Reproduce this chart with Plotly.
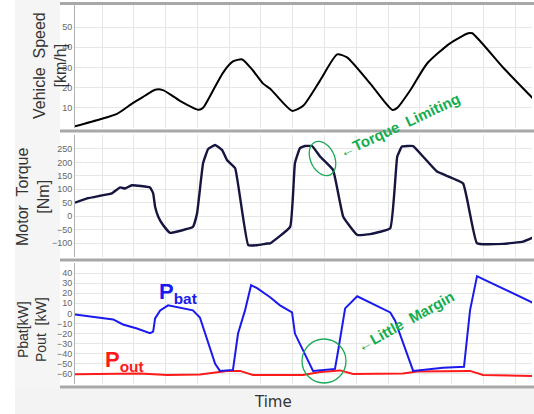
import numpy as np
import plotly.graph_objects as go
from plotly.subplots import make_subplots

# ---------------- data (time in s) ----------------
speed_t = [0, 7.9, 13.2, 18.3, 22.0, 25.2, 27.7, 33.0, 39.0, 40.3, 43.4, 46.6, 49.7, 52.6, 56.0,
           59.2, 61.4, 68.3, 71.8, 77.1, 82.5, 85.6, 92.9, 99.8, 101.4, 105.4, 110.8, 118.0,
           123.7, 125.0, 134.7, 144.2]
speed_v = [0.8, 4.3, 7, 12.5, 16, 19, 18.8, 13.5, 9, 10, 18.5, 27.5, 33, 34, 28.5,
           22, 19.5, 8.5, 11, 23.5, 36.5, 35, 22, 9, 10, 18.5, 32, 42,
           47, 47, 30, 14.5]

torque_t = [0, 3.8, 7.9, 11.6, 14.2, 15.7, 17.9, 23.6, 24.6, 25.2, 26.2, 27.7, 29.9, 37.1, 38.4,
            40.3, 41.9, 44.1, 46.3, 47.8, 50.4, 54.5, 57.3, 60.4, 61.4, 67.7, 69.2, 70.8,
            72.4, 74.6, 77.1, 81.2, 84.4, 88.8, 92.9, 99.2, 101.4, 102.9, 106.4, 109.5,
            113.9, 122.1, 126.5, 134.7, 141.0, 144.5]
torque_v = [50, 66, 76, 85, 107, 103, 115, 107, 85, 35, -2, -33, -62, -40, 10,
            197, 250, 265, 246, 209, 178, -108, -108, -102, -101, -40, 197, 253,
            261, 261, 222, 172, -2, -70, -67, -45, 222, 259, 261, 222,
            166, 122, -101, -103, -95, -77]

pbat_t = [0, 7.9, 12.0, 15.1, 19.5, 23.6, 24.6, 25.2, 26.8, 29.3, 37.1, 39.3, 41.9, 44.1, 45.6,
          49.7, 51.3, 53.5, 55.4, 57.3, 61.4, 64.5, 68.3, 69.2, 74.9, 81.8, 82.8, 85.0,
          88.8, 99.2, 100.7, 106.4, 115.8, 122.4, 124.3, 126.5, 128.4, 144.5]
pbat_v = [-1, -4, -6, -11, -15, -19.5, -18, -5, 3, 8, 3, -4, -30, -50, -57,
          -56, -20, 3, 28, 25, 16, 8, 1, -20, -57, -55, -37, 5,
          17, 1, -7, -57, -54, -53, 3, 37, 34, 10]

pout_t = [0, 7.9, 20.5, 29.0, 39.3, 47.8, 51.9, 56.0, 71.8, 77.1, 83.4, 87.5, 103.2, 107.6,
          124.3, 128.4, 144.5]
pout_v = [-60.4, -60, -59.5, -61, -60.5, -57, -57, -61, -61, -58, -56.5, -60, -59.5, -57.5,
          -57, -61, -62]

speed_ticks = [10, 20, 30, 40, 50]
torque_ticks = [-100, -50, 0, 50, 100, 150, 200, 250]
power_ticks = [-60, -50, -40, -30, -20, -10, 0, 10, 20, 30, 40]

# ---------------- layout helpers ----------------
W, H = 534, 414
L, R, T, B = 75, 2, 5, 30
PW, PH = W - L - R, H - T - B


def px_x(px):
    return (px - L) / PW


def px_y(py):
    return (H - B - py) / PH


fig = make_subplots(rows=3, cols=1, shared_xaxes=True, vertical_spacing=0.02)

fig.add_trace(go.Scatter(x=speed_t, y=speed_v, mode="lines", line=dict(color="black", width=2, shape="spline", smoothing=0.6),
                         showlegend=False), row=1, col=1)
fig.add_trace(go.Scatter(x=torque_t, y=torque_v, mode="lines", line=dict(color="#15153f", width=2.4, shape="spline", smoothing=0.3),
                         showlegend=False), row=2, col=1)
fig.add_trace(go.Scatter(x=pout_t, y=pout_v, mode="lines", line=dict(color="#ff1a1a", width=2),
                         showlegend=False), row=3, col=1)
fig.add_trace(go.Scatter(x=pbat_t, y=pbat_v, mode="lines", line=dict(color="#1a1aee", width=2),
                         showlegend=False), row=3, col=1)

doms = {1: [px_y(128), px_y(5)], 2: [px_y(257), px_y(135)], 3: [px_y(384), px_y(263)]}
ranges = {1: [0, 61], 2: [-152, 302], 3: [-70, 50]}
ticks = {1: speed_ticks, 2: torque_ticks, 3: power_ticks}

for r in (1, 2, 3):
    fig.update_yaxes(row=r, col=1, domain=doms[r], range=ranges[r], tickvals=ticks[r],
                     showgrid=True, gridcolor="#e6e6e6", gridwidth=1, zeroline=False,
                     showline=True, linecolor="#b0b0b0", linewidth=1, ticks="",
                     tickfont=dict(family="Liberation Sans", size=9, color="#666"))
    fig.update_xaxes(row=r, col=1, range=[0, 143.8], tick0=8.5, dtick=10,
                     showgrid=True, gridcolor="#e6e6e6", gridwidth=1, zeroline=False,
                     showticklabels=False, ticks="", showline=False)

shapes = []
# grey background areas
shapes.append(dict(type="rect", xref="paper", yref="paper", x0=px_x(15), x1=px_x(60), y0=px_y(390), y1=px_y(0),
                   fillcolor="#f5f5f5", line=dict(width=0), layer="below"))
shapes.append(dict(type="rect", xref="paper", yref="paper", x0=px_x(15), x1=px_x(W), y0=px_y(H), y1=px_y(389),
                   fillcolor="#f3f3f3", line=dict(width=0), layer="below"))
# panel separators
for py in (3.5, 131, 260, 387):
    shapes.append(dict(type="line", xref="paper", yref="paper", x0=px_x(60), x1=px_x(W), y0=px_y(py), y1=px_y(py),
                       line=dict(color="#a8a8a8", width=3)))

# tilted ellipse (torque limiting)
cx, cy, a, b, th = 322.5, 158.5, 18, 12, np.deg2rad(65)
tt = np.linspace(0, 2 * np.pi, 60)
ex = cx + a * np.cos(tt) * np.cos(th) - b * np.sin(tt) * np.sin(th)
ey = cy + a * np.cos(tt) * np.sin(th) + b * np.sin(tt) * np.cos(th)
path = "M " + " L ".join(f"{px_x(x):.5f},{px_y(y):.5f}" for x, y in zip(ex, ey)) + " Z"
shapes.append(dict(type="path", xref="paper", yref="paper", path=path, line=dict(color="#1aaa55", width=1.3)))
# circle (little margin)
shapes.append(dict(type="circle", xref="paper", yref="paper", x0=px_x(302), x1=px_x(346), y0=px_y(383), y1=px_y(339),
                   line=dict(color="#1aaa55", width=1.3)))

fig.update_layout(shapes=shapes)

green = "#14ad50"
ann = [
    dict(text="Vehicle  Speed<br>[km/h]", x=px_x(50), y=px_y(66), textangle=-90,
         font=dict(family="Liberation Sans", size=16, color="#333")),
    dict(text="Motor  Torque<br>[Nm]", x=px_x(33), y=px_y(197), textangle=-90,
         font=dict(family="Liberation Sans", size=16, color="#333")),
    dict(text="Pbat[kW]<br>Pout  [kW]", x=px_x(32), y=px_y(330), textangle=-90,
         font=dict(family="Liberation Sans", size=14, color="#333")),
    dict(text="Time", x=px_x(273), y=px_y(402),
         font=dict(family="DejaVu Sans", size=15, color="#333")),
    dict(text="<b>P<sub>bat</sub></b>", x=px_x(178), y=px_y(293),
         font=dict(family="Liberation Sans", size=22, color="#1a1aee")),
    dict(text="<b>P<sub>out</sub></b>", x=px_x(124), y=px_y(361),
         font=dict(family="Liberation Sans", size=22, color="#ff1a1a")),
    dict(text="←<b>Torque  Limiting</b>", x=px_x(399), y=px_y(126), textangle=-25,
         font=dict(family="Liberation Sans", size=15, color=green)),
    dict(text="←<b>Little  Margin</b>", x=px_x(405), y=px_y(321), textangle=-29,
         font=dict(family="Liberation Sans", size=15, color=green)),
]
for an in ann:
    an.update(xref="paper", yref="paper", showarrow=False, xanchor="center", yanchor="middle")
fig.update_layout(annotations=ann)

fig.update_layout(width=W, height=H, margin=dict(l=L, r=R, t=T, b=B, autoexpand=False),
                  paper_bgcolor="white", plot_bgcolor="white")

fig.write_html("out.html", config={"displayModeBar": False},
               post_script="document.body.style.margin='0px';document.body.style.padding='0px';")
